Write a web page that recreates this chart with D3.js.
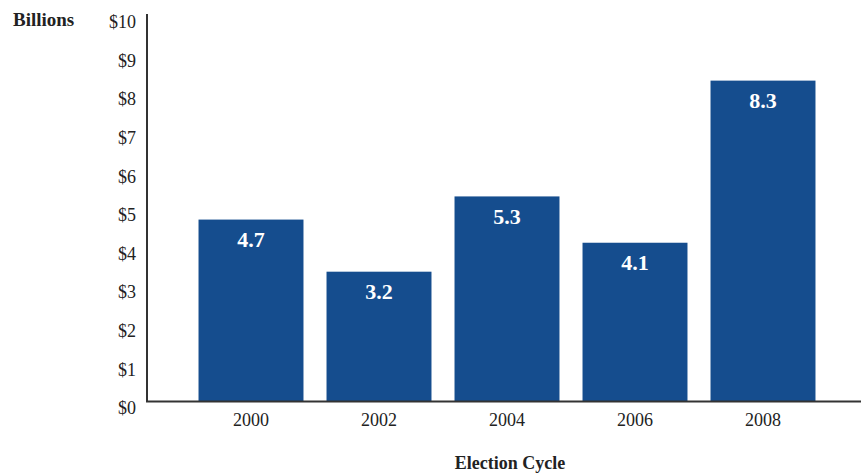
<!DOCTYPE html>
<html>
<head>
<meta charset="utf-8">
<script src="https://cdn.jsdelivr.net/npm/d3@7"></script>
<style>
  body { margin: 0; background: #fff; }
  svg text { font-family: "Liberation Serif", "DejaVu Serif", serif; fill: #222; }
</style>
</head>
<body>
<svg id="chart" width="862" height="473"></svg>
<script>
const cycles = ["2000", "2002", "2004", "2006", "2008"];
// bar heights as drawn, labels as printed
const values = [4.7, 3.35, 5.3, 4.1, 8.3];
const labels = ["4.7", "3.2", "5.3", "4.1", "8.3"];
const yTicks = [0, 1, 2, 3, 4, 5, 6, 7, 8, 9, 10];

const svg = d3.select("#chart");

const x = d3.scaleBand()
  .domain(cycles)
  .range([187, 827])
  .paddingInner(0.18)
  .paddingOuter(0.09);

const y = d3.scaleLinear()
  .domain([0, 10])
  .range([401, 15]);

// y axis labels (no ticks)
const yAxis = d3.axisLeft(y)
  .tickValues(yTicks)
  .tickFormat(d => "$" + d)
  .tickSize(0)
  .tickPadding(11);

const gy = svg.append("g")
  .attr("transform", "translate(147,0)")
  .call(yAxis);
gy.select(".domain").remove();
gy.selectAll("text")
  .attr("y", 7)
  .attr("dy", "0.32em")
  .style("font-size", "18px")
  .style("fill", "#222");

// bars
svg.selectAll("rect.bar")
  .data(values)
  .enter()
  .append("rect")
  .attr("class", "bar")
  .attr("x", (d, i) => x(cycles[i]))
  .attr("y", d => y(d))
  .attr("width", x.bandwidth())
  .attr("height", d => y(0) - y(d))
  .attr("fill", "#154d8e");

// value labels
svg.selectAll("text.val")
  .data(values)
  .enter()
  .append("text")
  .attr("class", "val")
  .attr("x", (d, i) => x(cycles[i]) + x.bandwidth() / 2)
  .attr("y", d => y(d) + 27.5)
  .attr("text-anchor", "middle")
  .style("font-size", "22px")
  .style("font-weight", "bold")
  .style("fill", "#fff")
  .text((d, i) => labels[i]);

// axis lines
svg.append("line")
  .attr("x1", 147).attr("x2", 147)
  .attr("y1", 14).attr("y2", y(0) + 1)
  .attr("stroke", "#333").attr("stroke-width", 2);
svg.append("line")
  .attr("x1", 146).attr("x2", 861)
  .attr("y1", y(0) + 0.5).attr("y2", y(0) + 0.5)
  .attr("stroke", "#333").attr("stroke-width", 2);

// x axis labels
const xAxis = d3.axisBottom(x).tickSize(0).tickPadding(12);
const gx = svg.append("g")
  .attr("transform", "translate(0," + y(0) + ")")
  .call(xAxis);
gx.select(".domain").remove();
gx.selectAll("text")
  .style("font-size", "18px")
  .style("fill", "#222");

// titles
svg.append("text")
  .attr("x", 13).attr("y", 26)
  .style("font-size", "19px")
  .style("font-weight", "bold")
  .text("Billions");

svg.append("text")
  .attr("x", 510).attr("y", 469)
  .attr("text-anchor", "middle")
  .style("font-size", "18px")
  .style("font-weight", "bold")
  .text("Election Cycle");
</script>
</body>
</html>
